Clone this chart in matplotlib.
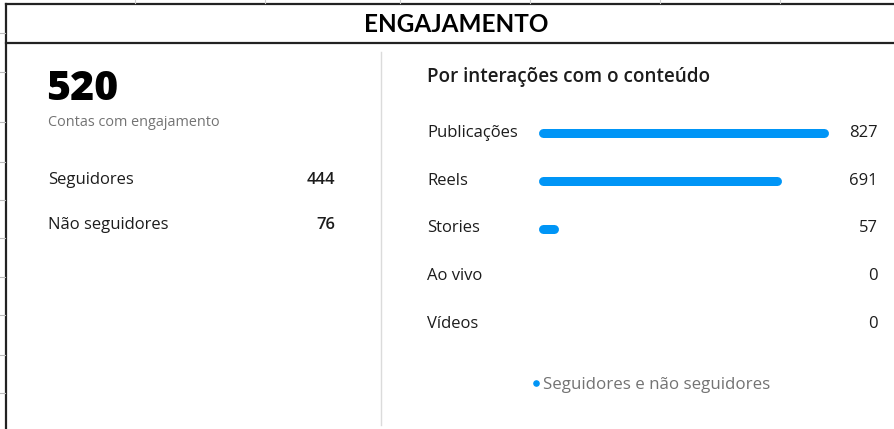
import matplotlib.pyplot as plt
import matplotlib.transforms as mtransforms

# dados
titulo = 'ENGAJAMENTO'
total_contas = 520
grupos = ['Seguidores', 'Não seguidores']
grupos_val = [444, 76]
categorias = ['Publicações', 'Reels', 'Stories', 'Ao vivo', 'Vídeos']
interacoes = [827, 691, 57, 0, 0]
legenda = 'Seguidores e não seguidores'

azul = '#0095F6'
escuro = '#1c1c1c'
cinza = '#737373'
fonte = 'Open Sans'

W, H = 895, 429
fig = plt.figure(figsize=(W / 100, H / 100), dpi=100)
bg = fig.add_axes([0, 0, 1, 1])
bg.set_xlim(0, W)
bg.set_ylim(H, 0)
bg.axis('off')

def px_axes(x0, y0, x1, y1):
    return fig.add_axes([x0 / W, 1 - y1 / H, (x1 - x0) / W, (y1 - y0) / H])

# moldura tipo planilha
bg.plot([6.5, 895], [4, 4], color='#222222', lw=1.6)
bg.plot([6.5, 895], [43, 43], color='#222222', lw=1.6)
bg.plot([6.5, 6.5], [4, 429], color='#222222', lw=1.6)
for yy in [33, 72, 122, 162, 200, 238, 277, 315, 355, 393]:
    bg.plot([0, 5], [yy, yy], color='#bbbbbb', lw=0.8)
for xx in [135, 265, 400, 530, 660, 780]:
    bg.plot([xx, xx], [0, 3], color='#cccccc', lw=0.8)
bg.text(456, 25, titulo, ha='center', va='center', fontsize=17.5,
        fontweight='bold', family='Lato', color='black')

# divisória
bg.plot([381, 381], [52, 425], color='#dbdbdb', lw=1)

# painel esquerdo
bg.text(46, 90, str(total_contas), ha='left', va='center', fontsize=29.5,
        fontweight='heavy', family=fonte, color='black')
bg.text(48, 123, 'Contas com engajamento', ha='left', va='center',
        fontsize=10.4, family=fonte, color=cinza)
for i, (g, v) in enumerate(zip(grupos, grupos_val)):
    y = 180 + i * 45
    bg.text(48, y, g, ha='left', va='center', fontsize=12, family=fonte,
            color=escuro)
    bg.text(335, y, str(v), ha='right', va='center', fontsize=12,
            fontweight='semibold', family=fonte, color=escuro)

# painel direito
bg.text(427, 77, 'Por interações com o conteúdo', ha='left', va='center',
        fontsize=13.6, fontweight='semibold', family=fonte, color=escuro)

bar = px_axes(539, 109, 829, 348)
bar.axis('off')
bar.set_xlim(0, max(interacoes))
bar.set_ylim(len(categorias) - 0.5, -0.5)
lw_px = 9
cap = (lw_px / 2) / 290 * max(interacoes)
for i, v in enumerate(interacoes):
    if v > 0:
        bar.hlines(i, cap, max(v - cap, cap + 0.01), color=azul,
                   lw=lw_px * 0.72, capstyle='round')

tr = mtransforms.blended_transform_factory(bg.transData, bar.transData)
for i, (c, v) in enumerate(zip(categorias, interacoes)):
    bar.text(427, i, c, transform=tr, ha='left', va='center', fontsize=12,
             family=fonte, color=escuro)
    bar.text(878, i, str(v), transform=tr, ha='right', va='center',
             fontsize=12, family=fonte, color=escuro)

bg.scatter([536], [383], s=14, color=azul, zorder=3)
bg.text(543, 385, legenda, ha='left', va='center', fontsize=12.2,
        family=fonte, color=cinza)

fig.savefig('out.png', dpi=100)
